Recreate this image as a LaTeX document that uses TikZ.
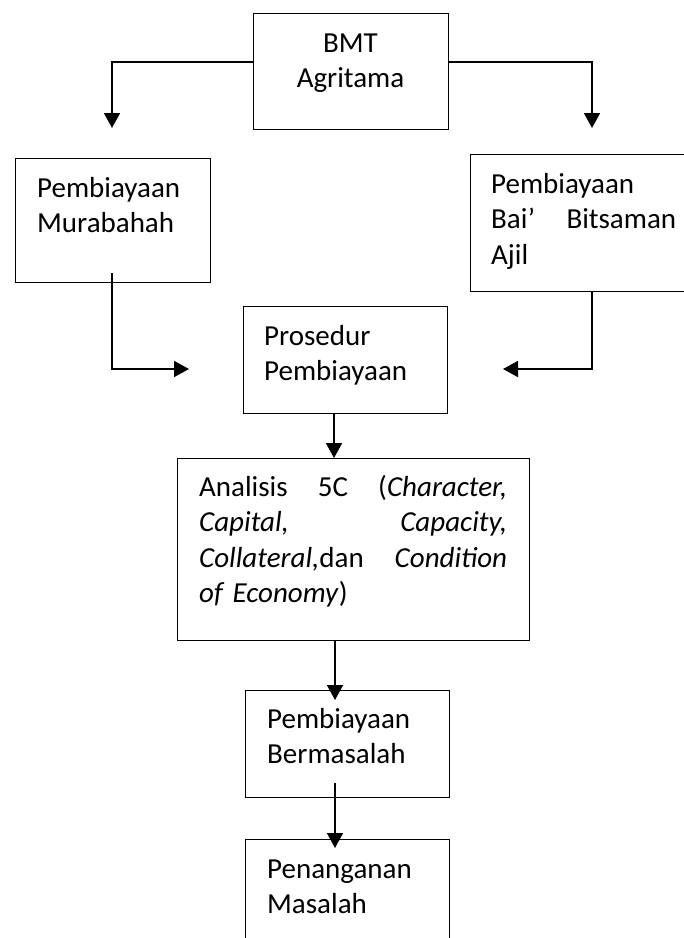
\documentclass[tikz,border=0pt]{standalone}
\usepackage{fontspec}
\setmainfont{Carlito}
\usetikzlibrary{arrows.meta,calc}
\begin{document}
\begin{tikzpicture}[x=1pt,y=1pt,
  box/.style={draw, line width=1.3pt, inner sep=0pt, anchor=north west},
  txt/.style={anchor=base west, inner sep=0pt, font=\fontsize{29}{35.5}\selectfont, align=left},
  conn/.style={line width=1.8pt},
  arr/.style={conn, -{Triangle[length=15pt,width=16pt]}}]
\useasboundingbox (0,0) rectangle (684,-938);
\fill[white] (0,0) rectangle (684,-938);

% boxes
\node[box, minimum width=195pt, minimum height=116pt] (bmt) at (253,-13) {};
\node[box, minimum width=195pt, minimum height=124pt] (mur) at (15,-158) {};
\node[box, minimum width=240pt, minimum height=137pt] (bai) at (470,-154) {};
\node[box, minimum width=204pt, minimum height=107pt] (pro) at (243,-306) {};
\node[box, minimum width=352pt, minimum height=182pt] (ana) at (177,-458) {};
\node[box, minimum width=204pt, minimum height=107pt] (ber) at (245,-690) {};
\node[box, minimum width=204pt, minimum height=130pt] (pen) at (245,-839) {};

% texts
\node[txt, text width=195pt, align=center, anchor=base] (tbmt) at (350.5,-52) {BMT\\Agritama};
\node[txt, text width=170pt] (tmur) at (37,-197) {Pembiayaan\\Murabahah};
\node[txt, text width=185pt] (tbai) at (491,-193) {Pembiayaan\\Bai'\hfill Bitsaman\\Ajil};
\node[txt, text width=180pt] (tpro) at (264,-345) {Prosedur\\Pembiayaan};
\node[txt, text width=308pt] (tana) at (199,-496) {Analisis\hfill 5C\hfill (\textit{Character,}\\\textit{Capital,}\hfill\textit{Capacity,}\\\textit{Collateral,}dan\hfill\textit{Condition}\\\textit{of Economy})};
\node[txt, text width=180pt] (tber) at (267,-728) {Pembiayaan\\Bermasalah};
\node[txt, text width=180pt] (tpen) at (267,-878) {Penanganan\\Masalah};

% connector end points
\coordinate (bl) at (112,-128);
\coordinate (br) at (592,-128);
\coordinate (ml0) at (112,-273);
\coordinate (ml) at (189,-369);
\coordinate (mr0) at (592,-291);
\coordinate (mr) at (503,-369);
\coordinate (p0) at (334,-413);
\coordinate (a0) at (335,-640);
\coordinate (a1) at (335,-700);
\coordinate (b0) at (335,-783);
\coordinate (b1) at (335,-848);

% connectors
\draw[arr] (bmt.west |- 0,-62) -| (bl);
\draw[arr] (bmt.east |- 0,-62) -| (br);
\draw[arr] (ml0) |- (ml);
\draw[arr] (mr0) |- (mr);
\draw[arr] (p0) -- (p0 |- ana.north);
\draw[arr] (a0) -- (a1);
\draw[arr] (b0) -- (b1);
\end{tikzpicture}
\end{document}
